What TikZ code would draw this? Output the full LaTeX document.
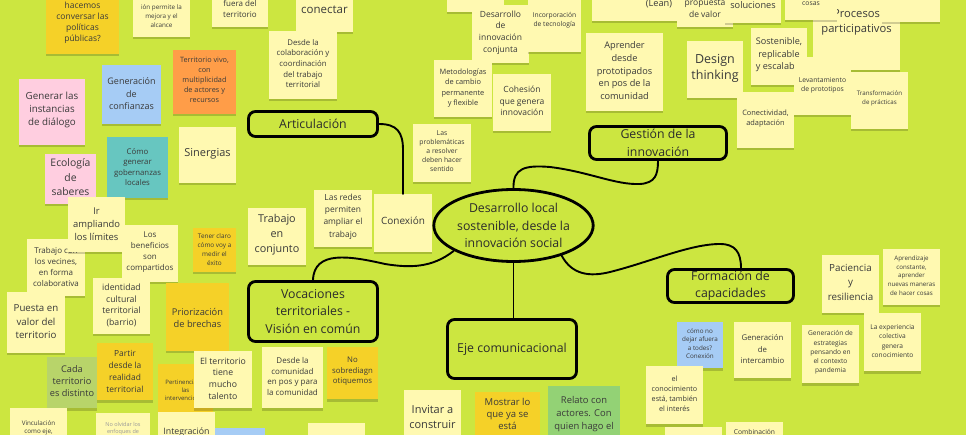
\documentclass[tikz,border=0pt]{standalone}
\usepackage{fontspec}
\setmainfont{Open Sans}
\usetikzlibrary{fit,shadows,shapes.geometric}
\definecolor{bg}{HTML}{CCE640}
\definecolor{cP}{HTML}{FFF9B1}
\definecolor{cY}{HTML}{F5D128}
\definecolor{cO}{HTML}{FF9D48}
\definecolor{cB}{HTML}{A6CCF5}
\definecolor{cT}{HTML}{67C6C0}
\definecolor{cK}{HTML}{FFCEE0}
\definecolor{cDG}{HTML}{93D275}
\definecolor{cG}{HTML}{B8D46A}
\definecolor{txt}{HTML}{3A3A3A}
\definecolor{hdr}{HTML}{2B2B2B}
\newcommand\fs[2]{\fontsize{#1}{#2}\selectfont}
\newcommand\stnote[9]{%
  \node[notebox, fill=#6, fit={(#2,#3) (#4,#5)}] (#1) {};
  \node[notetext, font=#8] (#1t) at (#1.center |- 0,#7) {#9};}
\newcommand\stempty[6]{\node[notebox, fill=#6, fit={(#2,#3) (#4,#5)}] (#1) {};}
\tikzset{
 notebox/.style={inner sep=0pt, outer sep=0pt, draw=none,
   drop shadow={shadow xshift=0pt, shadow yshift=-2.5pt, opacity=0.18, fill=black}},
 notetext/.style={inner sep=0pt, align=center, text=txt},
 branch/.style={draw=black, line width=2.8pt, rounded corners=7pt, inner sep=0pt,
   align=center, font=\fs{12.3}{17.3}, text=hdr},
 link/.style={draw=black, line width=1.9pt, line cap=round},
}
\begin{document}
\begin{tikzpicture}[x=1pt,y=-1pt]
\useasboundingbox (0,0) rectangle (966,435);
\clip (0,0) rectangle (966,435);
\fill[bg] (0,0) rectangle (966,435);

% top row
\stnote{n01}{46}{-12}{119}{54}{cY}{22.5}{\fs{8.5}{11}}{hacemos\\conversar las\\políticas\\públicas?}
\stnote{n02}{133}{-8}{190}{37}{cP}{16}{\fs{6.3}{9}}{ión permite la\\mejora y el\\alcance}
\stnote{n03}{212}{-20}{268}{27}{cP}{8.5}{\fs{8}{11}}{fuera del\\territorio}
\stnote{n04}{296}{-20}{353}{32}{cP}{10}{\fs{11.5}{15}}{conectar}
\stempty{n52a}{447}{-45}{504}{12}{cP}
\stnote{n52}{472}{5}{529}{63}{cP}{32.5}{\fs{8.5}{11.7}}{Desarrollo\\de\\innovación\\conjunta}
\stnote{n53}{528}{-5}{581}{52}{cP}{20.5}{\fs{6.7}{9}}{Incorporación\\de tecnología}
\stempty{n54}{592}{-40}{678}{21}{cP}
\node[notetext, font=\fs{9.2}{12}] (n54t) at (659,4) {(Lean)};
\stnote{n55}{677}{-30}{733}{27}{cP}{9}{\fs{8.5}{12}}{propuesta\\de valor}
\stnote{n56}{725}{-34}{781}{23}{cP}{5}{\fs{9.2}{12}}{soluciones}
\stnote{n58}{813}{-17}{900}{70}{cP}{22.5}{\fs{11.2}{15}}{Procesos\\participativos}
\stnote{n57}{785}{-37}{837}{20}{cP}{4}{\fs{6.8}{9}}{cosas}
\stempty{n59}{882}{-35}{940}{22}{cP}

% second band
\stnote{n05}{269}{31}{337}{99}{cP}{63.5}{\fs{7.8}{10.6}}{Desde la\\colaboración y\\coordinación\\del trabajo\\territorial}
\stnote{n07}{173}{50}{236}{114}{cO}{80}{\fs{7.3}{10}}{Territorio vivo,\\con\\multiplicidad\\de actores y\\recursos}
\stnote{n08}{102}{65}{161}{124}{cB}{94}{\fs{9}{12.5}}{Generación\\de\\confianzas}
\stnote{n09}{19}{79}{85}{145}{cK}{110}{\fs{9.8}{13}}{Generar las\\instancias\\de diálogo}
\stnote{n50}{434}{60}{492}{117}{cP}{88}{\fs{7.4}{10.2}}{Metodologías\\de cambio\\permanente\\y flexible}
\stnote{n51}{493}{74}{551}{131}{cP}{101}{\fs{8.5}{11.7}}{Cohesión\\que genera\\innovación}
\stnote{n65}{586}{33}{663}{111}{cP}{70.7}{\fs{9.2}{12.7}}{Aprender\\desde\\prototipados\\en pos de la\\comunidad}
\stnote{n64}{687}{41}{743}{98}{cP}{68}{\fs{12.5}{16}}{Design\\thinking}
\stnote{n60}{751}{28}{807}{85}{cP}{55}{\fs{9.1}{12.5}}{Sostenible,\\replicable\\y escalable}
\stnote{n63}{737}{92}{794}{148}{cP}{118.7}{\fs{7.4}{10.7}}{Conectividad,\\adaptación}
\stnote{n61}{794}{57}{851}{115}{cP}{85.3}{\fs{6.8}{9.3}}{Levantamiento\\de prototipos}
\stnote{n62}{851}{72}{908}{129}{cP}{98.8}{\fs{6.2}{9}}{Transformación\\de prácticas}

% left cluster
\stnote{n49}{413}{124}{471}{182}{cP}{151}{\fs{6.8}{9.1}}{Las\\problemáticas\\a resolver\\deben hacer\\sentido}
\stnote{n10}{179}{127}{236}{183}{cP}{153.5}{\fs{11}{14}}{Sinergias}
\stnote{n11}{107}{137}{168}{198}{cT}{167}{\fs{7.8}{10.6}}{Cómo\\generar\\gobernanzas\\locales}
\stnote{n12}{45}{154}{96}{204}{cK}{177.5}{\fs{10.4}{14.5}}{Ecología\\de\\saberes}
\stnote{n16}{27}{239}{85}{296}{cP}{267}{\fs{8}{10.7}}{Trabajo con\\los vecines,\\en forma\\colaborativa}
\stnote{n13}{68}{197}{125}{252}{cP}{224}{\fs{9.4}{13}}{Ir\\ampliando\\los límites}
\stnote{n14}{122}{225}{178}{282}{cP}{252.5}{\fs{8}{11}}{Los\\beneficios\\son\\compartidos}
\stnote{n15}{193}{228}{236}{272}{cY}{249.5}{\fs{6.4}{9}}{Tener claro\\cómo voy a\\medir el\\éxito}
\stnote{n17}{93}{278}{150}{334}{cP}{305.5}{\fs{8.7}{11.7}}{identidad\\cultural\\territorial\\(barrio)}
\stnote{n18}{166}{283}{229}{351}{cY}{318}{\fs{9.3}{12.5}}{Priorización\\de brechas}
\stnote{n19}{7}{292}{65}{353}{cP}{322}{\fs{9.7}{13.5}}{Puesta en\\valor del\\territorio}
\stnote{n20}{47}{357}{97}{408}{cG}{381}{\fs{9.2}{12}}{Cada\\territorio\\es distinto}
\stnote{n21}{97}{343}{153}{400}{cY}{371}{\fs{8.4}{12}}{Partir\\desde la\\realidad\\territorial}
\stnote{n22}{158}{364}{213}{420}{cY}{390}{\fs{6}{8}}{Pertinencia de\\las\\intervenciones}
\stnote{n23}{194}{351}{252}{408}{cP}{378.5}{\fs{8.7}{11.7}}{El territorio\\tiene\\mucho\\talento}
\stnote{n24}{10}{408}{67}{460}{cP}{428}{\fs{6.3}{8.5}}{Vinculación\\como eje,}
\stempty{n25}{96}{413}{150}{460}{cP}
\node[notetext, text=black!40, font=\fs{5.5}{7}] (n25t) at (123,428.5) {No olvidar los\\enfoques de};
\stnote{n26}{158}{412}{215}{470}{cP}{432}{\fs{8.8}{12}}{Integración}
\stempty{n27}{215}{428}{265}{480}{cB}
\stempty{n28}{308}{423}{365}{480}{cP}

% centre and right
\stnote{n48}{248}{208}{306}{265}{cP}{234.3}{\fs{10.8}{15}}{Trabajo\\en\\conjunto}
\stnote{n47}{314}{190}{372}{247}{cP}{216.7}{\fs{8.4}{12.2}}{Las redes\\permiten\\ampliar el\\trabajo}
\stnote{conx}{374}{194}{432}{252}{cP}{221}{\fs{10}{13}}{Conexión}
\stnote{n30}{262}{347}{323}{408}{cP}{376.5}{\fs{8}{10.5}}{Desde la\\comunidad\\en pos y para\\la comunidad}
\stnote{n31}{327}{347}{378}{399}{cY}{371.5}{\fs{7.8}{10.5}}{No\\sobrediagn\\otiquemos}
\stnote{n32}{404}{390}{461}{450}{cP}{417.5}{\fs{11}{15}}{Invitar a\\construir}
\stnote{n34}{475}{392}{540}{450}{cY}{414}{\fs{9.5}{12.2}}{Mostrar lo\\que ya se\\está}
\stnote{n35}{548}{386}{620}{450}{cDG}{414}{\fs{9.4}{12.8}}{Relato con\\actores. Con\\quien hago el}
\stnote{n36}{677}{322}{723}{368}{cB}{343.5}{\fs{6.3}{8.5}}{cómo no\\dejar afuera\\a todes?\\Conexión}
\stnote{n37}{646}{366}{703}{424}{cP}{394}{\fs{7.2}{10}}{el\\conocimiento\\está, también\\el interés}
\stempty{n38}{665}{427}{722}{480}{cP}
\stnote{n39}{726}{422}{783}{480}{cP}{432}{\fs{6.7}{9}}{Combinación}
\stnote{n41}{822}{255}{879}{313}{cP}{282}{\fs{9.8}{14.5}}{Paciencia\\y\\resiliencia}
\stnote{n42}{883}{249}{940}{305}{cP}{275.5}{\fs{6.2}{8.7}}{Aprendizaje\\constante,\\aprender\\nuevas maneras\\de hacer cosas}
\stnote{n43}{734}{322}{791}{378}{cP}{349.5}{\fs{7.8}{11.5}}{Generación\\de\\intercambio}
\stnote{n44}{802}{325}{859}{383}{cP}{352.5}{\fs{6.6}{9.2}}{Generación de\\estrategias\\pensando en\\el contexto\\pandemia}
\stnote{n45}{864}{313}{921}{371}{cP}{341}{\fs{6.6}{9.3}}{La experiencia\\colectiva\\genera\\conocimiento}

% branches
\node[branch, minimum width=129pt, minimum height=25pt] (art) at (313,124) {Articulación};
\node[branch, minimum width=129pt, minimum height=60pt] (voc) at (313,311.5) {Vocaciones\\territoriales -\\Visión en común};
\node[branch, minimum width=129pt, minimum height=59pt] (eje) at (512,349) {Eje comunicacional};
\node[branch, minimum width=137pt, minimum height=33pt] (gest) at (658,143) {Gestión de la\\innovación};
\node[branch, minimum width=126pt, minimum height=33pt] (form) at (730.5,286) {Formación de\\capacidades};
\node[ellipse, draw=black, line width=2.8pt, fill=bg, minimum width=159pt, minimum height=72pt,
  inner sep=0pt, align=center, font=\fs{12.3}{17.5}, text=hdr] (core) at (513.5,225.5)
  {Desarrollo local\\sostenible, desde la\\innovación social};

% connectors
\draw[link] (art.east) .. controls +(18,0) and +(0,-18) .. (conx.north |- 0,150) -- (conx.north);
\draw[link] (core.north) .. controls (513,168) and (525,165) .. (550,167)
  .. controls (590,172) and (615,185) .. (640,184)
  .. controls (655,183) and (658,175) .. (gest.south);
\draw[link] (core.-32) .. controls (572,275) and (590,277) .. (610,272)
  .. controls (650,262) and (690,244) .. (720,244)
  .. controls (735,244) and (741,252) .. ([xshift=10.5pt]form.north);
\draw[link] (core.203) .. controls (432,268) and (410,268) .. (385,264)
  .. controls (350,256) and (314,250) .. (voc.north);
\draw[link] (core.south) -- (core.south |- eje.north);
\end{tikzpicture}
\end{document}
